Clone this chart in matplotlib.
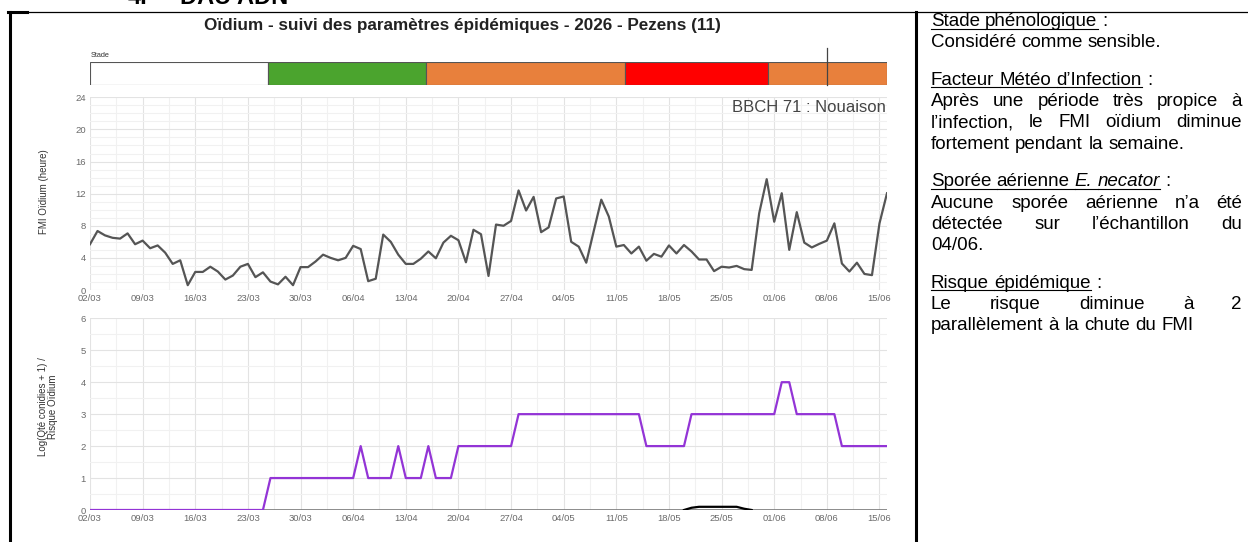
import numpy as np
import matplotlib
matplotlib.use("Agg")
import matplotlib.pyplot as plt

# =============================================================================
# Data
# =============================================================================

tick_labels = ["02/03", "09/03", "16/03", "23/03", "30/03", "06/04", "13/04",
               "20/04", "27/04", "04/05", "11/05", "18/05", "25/05", "01/06",
               "08/06", "15/06"]

# FMI Oidium (heure), one value per day from 02/03 to 16/06
fmi = [5.7, 7.35, 6.8, 6.5, 6.4, 7.05, 5.7, 6.15, 5.2, 5.55,
       4.65, 3.25, 3.7, 0.6, 2.25, 2.25, 2.9, 2.3, 1.3, 1.8,
       2.9, 3.25, 1.6, 2.2, 1.05, 0.7, 1.65, 0.6, 2.85, 2.85,
       3.55, 4.4, 4.0, 3.7, 4.0, 5.5, 5.1, 1.1, 1.4, 6.9,
       6.0, 4.4, 3.25, 3.25, 3.9, 4.8, 3.95, 5.9, 6.75, 6.2,
       3.45, 7.5, 6.95, 1.75, 8.15, 8.0, 8.6, 12.4, 9.9, 11.6,
       7.2, 7.8, 11.4, 11.65, 6.0, 5.4, 3.4, 7.35, 11.25, 9.15,
       5.4, 5.6, 4.55, 5.4, 3.65, 4.5, 4.15, 5.55, 4.55, 5.6,
       4.8, 3.8, 3.8, 2.35, 2.9, 2.8, 3.0, 2.6, 2.5, 9.55,
       13.8, 8.5, 12.05, 5.0, 9.7, 5.9, 5.3, 5.75, 6.15, 8.3,
       3.3, 2.3, 3.4, 2.0, 1.85, 8.3, 12.05]

# Risque Oidium
risque = [0, 0, 0, 0, 0, 0, 0, 0, 0, 0,
          0, 0, 0, 0, 0, 0, 0, 0, 0, 0,
          0, 0, 0, 0, 1, 1, 1, 1, 1, 1,
          1, 1, 1, 1, 1, 1, 2, 1, 1, 1,
          1, 2, 1, 1, 1, 2, 1, 1, 1, 2,
          2, 2, 2, 2, 2, 2, 2, 3, 3, 3,
          3, 3, 3, 3, 3, 3, 3, 3, 3, 3,
          3, 3, 3, 3, 2, 2, 2, 2, 2, 2,
          3, 3, 3, 3, 3, 3, 3, 3, 3, 3,
          3, 3, 4, 4, 3, 3, 3, 3, 3, 3,
          2, 2, 2, 2, 2, 2, 2]

# Log(Qte conidies + 1)
conidies = [0, 0, 0, 0, 0, 0, 0, 0, 0, 0,
            0, 0, 0, 0, 0, 0, 0, 0, 0, 0,
            0, 0, 0, 0, 0, 0, 0, 0, 0, 0,
            0, 0, 0, 0, 0, 0, 0, 0, 0, 0,
            0, 0, 0, 0, 0, 0, 0, 0, 0, 0,
            0, 0, 0, 0, 0, 0, 0, 0, 0, 0,
            0, 0, 0, 0, 0, 0, 0, 0, 0, 0,
            0, 0, 0, 0, 0, 0, 0, 0, 0, 0,
            0.07, 0.1, 0.1, 0.1, 0.1, 0.1, 0.1, 0.04, 0, 0,
            0, 0, 0, 0, 0, 0, 0, 0, 0, 0,
            0, 0, 0, 0, 0, 0, 0]

# Stade bar (day boundaries and colours)
stage_bounds = [0, 23.7, 44.7, 71.2, 90.2, 106]
stage_colors = ["#ffffff", "#4ba42e", "#e8803c", "#ff0000", "#e8803c"]
today = 98

# =============================================================================
# Figure
# =============================================================================

W, H = 1248, 542
plt.rcParams["font.family"] = ["Liberation Sans", "DejaVu Sans"]

fig = plt.figure(figsize=(W / 100, H / 100), dpi=100)


def rect(x0, y0, x1, y1):
    return [x0 / W, 1 - y1 / H, (x1 - x0) / W, (y1 - y0) / H]


# overlay in pixel coordinates (borders, labels, right hand text)
bg = fig.add_axes([0, 0, 1, 1])
bg.set_xlim(0, W)
bg.set_ylim(H, 0)
bg.axis("off")

days = np.arange(len(fmi))
n_last = len(fmi) - 1


def style_axis(ax, ymax, major, minor):
    ax.set_xlim(0, n_last)
    ax.set_ylim(0, ymax)
    ax.set_xticks(np.arange(0, n_last, 7))
    ax.set_xticklabels(tick_labels)
    ax.set_xticks(np.arange(3.5, n_last, 7), minor=True)
    ax.set_yticks(np.arange(0, ymax + 0.01, major))
    ax.set_yticks(np.arange(0, ymax + 0.01, minor), minor=True)
    ax.grid(which="major", color="#e3e3e3", lw=0.8)
    ax.grid(which="minor", color="#f1f1f1", lw=0.8)
    ax.set_axisbelow(True)
    ax.tick_params(which="both", length=0, labelsize=6.8,
                   labelcolor="#6a6a6a", pad=3)
    for s in ax.spines.values():
        s.set_visible(False)


# ---- Chart 1 : FMI ----------------------------------------------------------
ax1 = fig.add_axes(rect(90, 97.3, 887, 290))
style_axis(ax1, 24, 4, 1)
ax1.plot(days, fmi, color="#555555", lw=1.6, solid_joinstyle="round")
ax1.text(0.998, 0.985, "BBCH 71 : Nouaison", transform=ax1.transAxes,
         ha="right", va="top", fontsize=12, color="#444444")

# ---- Chart 2 : Risque -------------------------------------------------------
ax2 = fig.add_axes(rect(90, 318.3, 887, 510))
style_axis(ax2, 6, 1, 0.5)
ax2.axhline(0, color="#7a7a7a", lw=1.2, zorder=1)
con = np.array(conidies, dtype=float)
near = np.convolve(con > 0, [1, 1, 1], mode="same") > 0
ax2.plot(days, np.where(near, con, np.nan), color="black", lw=1.6, zorder=2)
ax2.plot(days, risque, color="#9334d6", lw=1.6, zorder=3)

# ---- Stade bar --------------------------------------------------------------
ax0 = fig.add_axes(rect(90, 62, 887, 85))
ax0.set_xlim(0, n_last)
ax0.set_ylim(0, 1)
ax0.axis("off")
for a, b, c in zip(stage_bounds[:-1], stage_bounds[1:], stage_colors):
    ax0.barh(0.5, b - a, left=a, height=1, color=c,
             edgecolor="#555555", lw=0.8)
ax0.plot([today, today], [0, 1.6], color="#444444", lw=0.9, clip_on=False)
bg.text(91, 57, "Stade", fontsize=5.3, color="#333333", va="baseline")

# ---- titles and axis labels ------------------------------------------------
bg.text(462, 30, "Oïdium - suivi des paramètres épidémiques - 2026 - Pezens (11)",
        ha="center", va="baseline", fontsize=12.3, fontweight="bold",
        color="#222222")
bg.text(44, 192, "FMI Oïdium (heure)", rotation=90, ha="center",
        va="center", fontsize=7, color="#333333")
bg.text(48, 407, "Log(Qté conidies + 1) /\nRisque Oïdium", rotation=90,
        ha="center", va="center", fontsize=7, color="#333333",
        multialignment="center", linespacing=1.0)

# top heading, cut off by the page edge
bg.text(128, 4, "4.", fontsize=17, fontweight="bold", va="baseline")
bg.text(180, 4, "DAU ADN", fontsize=17, fontweight="bold", va="baseline")

# ---- table borders ---------------------------------------------------------
bg.plot([9, W], [12, 12], color="black", lw=0.9)
bg.plot([8, 27], [12, 12], color="black", lw=2.2)
bg.plot([9.5, 9.5], [12, H], color="black", lw=2.2)
bg.plot([916, 916], [12, H], color="black", lw=2.2)

# =============================================================================
# Right hand comment text
# =============================================================================

renderer = fig.canvas.get_renderer()
FS = 13.5
X0, X1 = 931, 1242


def text_width(s, style="normal"):
    t = bg.text(0, 0, s, fontsize=FS, style=style)
    w = t.get_window_extent(renderer).width
    t.remove()
    return w


SPACE = text_width("a a") - text_width("aa")


def draw_line(words, y, justify=False):
    widths = [text_width(w, "italic" if it else "normal") for w, it, u in words]
    gap = SPACE
    if justify and len(words) > 1:
        gap = (X1 - X0 - sum(widths)) / (len(words) - 1)
    x = X0
    for i, ((w, it, u), wd) in enumerate(zip(words, widths)):
        bg.text(x, y, w, fontsize=FS, va="baseline",
                style="italic" if it else "normal", color="black")
        if u:
            end = x + wd
            if i + 1 < len(words) and words[i + 1][2]:
                end += gap
            bg.plot([x, end], [y + 2.5, y + 2.5], color="black", lw=0.8)
        x += wd + gap


def plain(s):
    return [(w, False, False) for w in s.split()]


def heading(s, italic_words=()):
    out = [(w, w in italic_words, True) for w in s.split()]
    return out + [(":", False, False)]


lines = [
    (heading("Stade phénologique"), 26, False),
    (plain("Considéré comme sensible."), 47.3, False),
    (heading("Facteur Météo d’Infection"), 84.8, False),
    (plain("Après une période très propice à"), 106.1, True),
    (plain("l’infection, le FMI oïdium diminue"), 127.4, True),
    (plain("fortement pendant la semaine."), 148.7, False),
    (heading("Sporée aérienne E. necator", ("E.", "necator")), 186.2, False),
    (plain("Aucune sporée aérienne n’a été"), 207.5, True),
    (plain("détectée sur l’échantillon du"), 228.8, True),
    (plain("04/06."), 250.1, False),
    (heading("Risque épidémique"), 287.6, False),
    (plain("Le risque diminue à 2"), 308.9, True),
    (plain("parallèlement à la chute du FMI"), 330.2, False),
]

for words, y, just in lines:
    draw_line(words, y, just)

fig.savefig("out.png", dpi=100)
